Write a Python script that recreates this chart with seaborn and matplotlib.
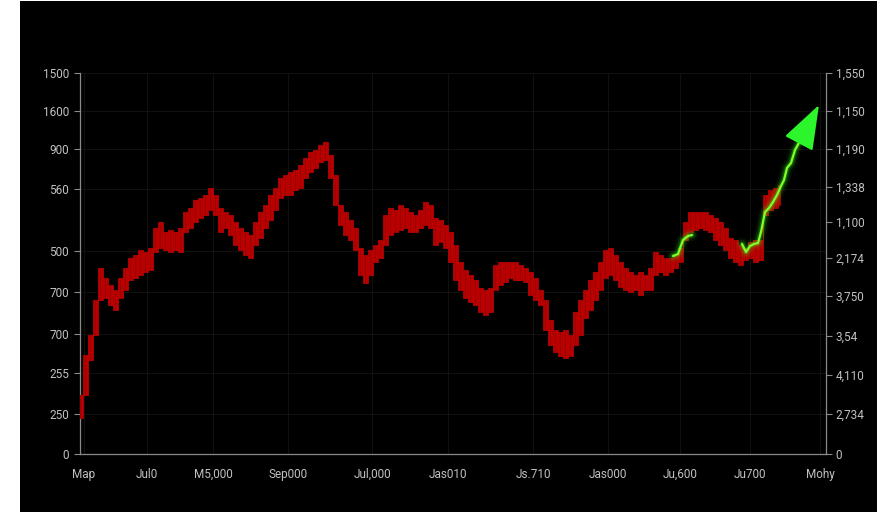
import numpy as np
import pandas as pd
import seaborn as sns
import matplotlib
matplotlib.use("Agg")
import matplotlib.pyplot as plt
from matplotlib.patches import Rectangle

# ---------------- data (axis units: x 0..746, y 0..381) ----------------
bar_x = list(range(0, 705, 5))
bar_hi = [59, 99, 119, 154, 186, 176, 169, 164, 176, 186, 196, 199, 204, 202, 206, 226,
          232, 222, 224, 222, 226, 242, 246, 254, 256, 259, 266, 259, 246, 242, 239, 232,
          226, 222, 219, 232, 242, 249, 259, 266, 276, 279, 282, 284, 289, 296, 302, 304,
          309, 312, 299, 279, 249, 242, 234, 226, 206, 199, 204, 209, 214, 239, 246, 244,
          249, 246, 242, 239, 244, 252, 249, 236, 234, 229, 222, 209, 192, 184, 179, 174,
          166, 164, 166, 189, 192, 192, 192, 192, 189, 186, 182, 176, 164, 154, 134, 124,
          122, 124, 119, 142, 154, 164, 174, 182, 192, 204, 206, 199, 192, 186, 182, 179,
          182, 179, 186, 202, 199, 196, 196, 199, 206, 232, 242, 242, 242, 242, 239, 236,
          232, 226, 216, 214, 209, 206, 212, 214, 214, 259, 264, 266, 269]
bar_lo = [36, 59, 94, 119, 154, 156, 149, 144, 156, 164, 174, 176, 179, 182, 184, 202,
          206, 204, 202, 204, 202, 222, 226, 232, 236, 239, 244, 239, 222, 226, 219, 209,
          204, 199, 196, 209, 216, 226, 234, 244, 256, 259, 259, 264, 266, 276, 282, 286,
          292, 294, 276, 249, 229, 219, 214, 204, 179, 171, 179, 192, 196, 209, 219, 222,
          224, 226, 222, 222, 226, 229, 226, 209, 212, 206, 192, 174, 164, 156, 152, 149,
          142, 139, 142, 164, 169, 172, 176, 174, 174, 172, 159, 154, 149, 124, 109, 102,
          98, 96, 98, 109, 119, 136, 144, 154, 164, 176, 179, 174, 167, 164, 162, 164,
          159, 164, 164, 179, 182, 179, 182, 186, 192, 214, 222, 224, 226, 224, 222, 214,
          209, 204, 196, 192, 189, 194, 196, 192, 194, 239, 244, 246, 249]

green1_x = [593, 598, 603, 608, 612]
green1_y = [198, 200, 214, 218, 219]
green2_x = [662, 666, 670, 674, 678, 681, 685, 689, 693, 697, 701, 704, 707, 711, 715, 720, 739]
green2_y = [210, 202, 208, 210, 211, 222, 242, 246, 252, 259, 268, 274, 286, 291, 304, 313, 349]

x_ticks = [4, 67, 133, 208, 292, 368, 453, 528, 600, 670, 740]
x_labels = ["Map", "Jul0", "M5,000", "Sep000", "Jul,000", "Jas010", "Js.710",
            "Jas000", "Ju,600", "Ju700", "Mohy"]
yl_ticks = [381, 343, 305, 265, 203, 162, 120, 81, 40, 0]
yl_labels = ["1500", "1600", "900", "560", "500", "700", "700", "255", "250", "0"]
yr_ticks = [381, 343, 305, 267, 232, 196, 158, 118, 79, 40, 0]
yr_labels = ["1,550", "1,150", "1,190", "1,338", "1,100", "2,174", "3,750",
             "3,54", "4,110", "2,734", "0"]

# ---------------- style ----------------
sns.set_theme(style="dark")
plt.rcParams["font.family"] = ["Roboto", "DejaVu Sans"]

W, H = 896, 512
fig = plt.figure(figsize=(W / 100, H / 100), dpi=100, facecolor="white")
fig.patches.append(Rectangle((20 / W, 0), 857 / W, 511 / H, transform=fig.transFigure,
                             facecolor="black", edgecolor="none", zorder=-10))

ax = fig.add_axes([80 / W, 58 / H, 746 / W, 381 / H])
ax.set_facecolor("black")
ax.set_xlim(0, 746)
ax.set_ylim(0, 381)

# red band
bars = pd.DataFrame({"x": bar_x, "lo": bar_lo, "hi": bar_hi})
ax.fill_between(bars["x"], bars["lo"], bars["hi"], step="mid", color="#b80000",
                linewidth=0.6, edgecolor="#b80000", zorder=3)
ax.vlines(bars["x"], bars["lo"], bars["hi"], color="#9a0000", linewidth=0.6, zorder=4)

# green line with glow
for gx, gy in [(green1_x, green1_y), (green2_x[:-1], green2_y[:-1])]:
    df = pd.DataFrame({"x": gx, "y": gy})
    for lw, a in [(9, 0.06), (6, 0.12), (3.5, 0.25)]:
        sns.lineplot(data=df, x="x", y="y", ax=ax, color="#39ff14", linewidth=lw,
                     alpha=a, sort=False, zorder=5, legend=False)
    sns.lineplot(data=df, x="x", y="y", ax=ax, color="#7dff2a", linewidth=1.6,
                 sort=False, zorder=6, legend=False)

ax.annotate("", xy=(green2_x[-1], green2_y[-1]), xytext=(green2_x[-2], green2_y[-2]),
            arrowprops=dict(arrowstyle="-|>,head_length=2.8,head_width=1.0",
                            mutation_scale=10, color="#2cf52c", linewidth=1.6,
                            shrinkA=0, shrinkB=0), zorder=7)

# axes styling
ax.grid(True, color="#141414", linewidth=0.6)
ax.set_axisbelow(True)
for side in ["top", "right"]:
    ax.spines[side].set_visible(False)
for side in ["left", "bottom"]:
    ax.spines[side].set_visible(True)
    ax.spines[side].set_color("#8a8a8a")
    ax.spines[side].set_linewidth(0.9)

ax.set_xticks(x_ticks)
ax.set_xticklabels(x_labels)
ax.set_yticks(yl_ticks)
ax.set_yticklabels(yl_labels)
ax.tick_params(axis="both", colors="#8a8a8a", labelcolor="#c0c0c0", labelsize=8.5,
               length=4, width=0.8, direction="out")
ax.tick_params(axis="x", pad=6)
ax.tick_params(axis="y", pad=4)
ax.set_xlabel("")
ax.set_ylabel("")

ax2 = ax.twinx()
ax2.set_ylim(0, 381)
ax2.set_yticks(yr_ticks)
ax2.set_yticklabels(yr_labels)
for side in ["top", "left", "bottom"]:
    ax2.spines[side].set_visible(False)
ax2.spines["right"].set_visible(True)
ax2.spines["right"].set_color("#8a8a8a")
ax2.spines["right"].set_linewidth(0.9)
ax2.tick_params(axis="y", colors="#8a8a8a", labelcolor="#c0c0c0", labelsize=8.5,
                length=4, width=0.8, direction="out", pad=3)
ax2.grid(False)

fig.savefig("out.png", dpi=100, facecolor="white")
